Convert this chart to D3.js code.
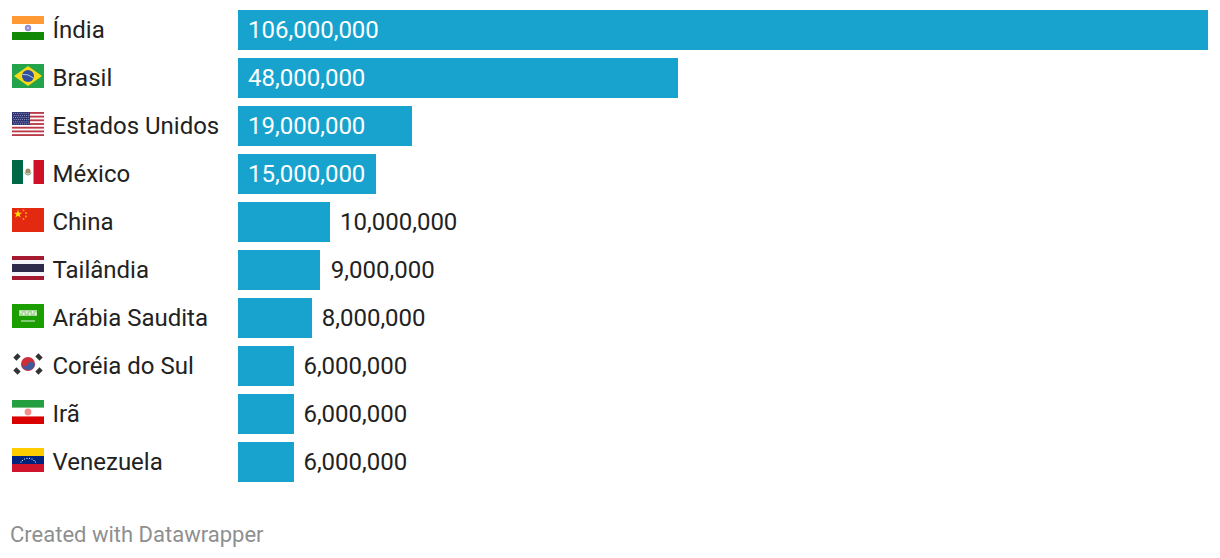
<!DOCTYPE html>
<html>
<head>
<meta charset="utf-8">
<script src="https://cdn.jsdelivr.net/npm/d3@7"></script>
<style>
	html, body { margin: 0 ; padding: 0 ; background: #fff ; overflow: hidden ; }
	text { font-family: Roboto, sans-serif ; }
</style>
</head>
<body>
<svg id="chart" width="1220" height="558"></svg>
<script>
const countries = [ "Índia", "Brasil", "Estados Unidos", "México", "China", "Tailândia", "Arábia Saudita", "Coréia do Sul", "Irã", "Venezuela" ] ;
const values = [ 106000000, 48000000, 19000000, 15000000, 10000000, 9000000, 8000000, 6000000, 6000000, 6000000 ] ;
const flagCodes = [ "in", "br", "us", "mx", "cn", "th", "sa", "kr", "ir", "ve" ] ;
const footer = "Created with Datawrapper" ;

const svg = d3.select( "#chart" ) ;

const x = d3.scaleLinear().domain( [0, 106000000] ).range( [238, 1208] ) ;
const y = d3.scaleBand().domain( countries ).range( [10, 482] ).paddingInner( 1/6 ) ;
const fmt = d3.format( "," ) ;

// the original snaps bar widths to whole css pixels of a 2x page
function barWidth( v ) {
	return Math.round( (x(v) - x(0))/2 + 0.3 ) * 2 ;
}

const rows = svg.selectAll( "g.row" )
	.data( countries )
	.enter().append( "g" )
		.attr( "class", "row" )
	;

rows.append( "rect" )
	.attr( "x", x(0) )
	.attr( "y", d => y(d) )
	.attr( "width", (d,i) => barWidth( values[i] ) )
	.attr( "height", y.bandwidth() )
	.attr( "fill", "#18a3cf" )
	;

rows.append( "text" )
	.attr( "x", 52.5 )
	.attr( "y", d => y(d) + y.bandwidth()/2 + 8 )
	.attr( "font-size", 24 )
	.attr( "fill", "#222" )
	.text( d => d )
	;

// big bars keep the label inside in white, small ones get it outside
rows.append( "text" )
	.attr( "x", (d,i) => values[i] > 10000000 ? x(0) + 10 : x(values[i]) + 10.5 )
	.attr( "y", d => y(d) + y.bandwidth()/2 + 8 )
	.attr( "font-size", 24 )
	.attr( "fill", (d,i) => values[i] > 10000000 ? "#fff" : "#222" )
	.text( (d,i) => fmt(values[i]) )
	;

svg.append( "text" )
	.attr( "x", 10 )
	.attr( "y", 542 )
	.attr( "font-size", 22 )
	.attr( "fill", "#8f8f8f" )
	.text( footer )
	;

/*
	flags - each one is drawn in its own 32x24 box
*/
function band( g, yy, h, c ) {
	g.append( "rect" ).attr( "x", 0 ).attr( "y", yy ).attr( "width", 32 ).attr( "height", h ).attr( "fill", c ) ;
}
function box( g, xx, yy, w, h, c ) {
	g.append( "rect" ).attr( "x", xx ).attr( "y", yy ).attr( "width", w ).attr( "height", h ).attr( "fill", c ) ;
}
function dot( g, cx, cy, r, c ) {
	g.append( "circle" ).attr( "cx", cx ).attr( "cy", cy ).attr( "r", r ).attr( "fill", c ) ;
}

const flagDraw = {
	in( g ) {
		band( g, 0, 8, "#ff9933" ) ;
		band( g, 8, 8, "#ffffff" ) ;
		band( g, 16, 8, "#128807" ) ;
		dot( g, 16, 12, 3.2, "#8f8fd0" ) ;
		dot( g, 16, 12, 1, "#dcdcf4" ) ;
	},
	br( g ) {
		band( g, 0, 24, "#24a44a" ) ;
		g.append( "path" ).attr( "d", "M16 2L30 12L16 22L2 12Z" ).attr( "fill", "#f7d917" ) ;
		dot( g, 16, 12, 6, "#2f4fa0" ) ;
		g.append( "path" ).attr( "d", "M10.5 10.5Q16 9.5 21.5 14" ).attr( "stroke", "#d8e4ea" ).attr( "stroke-width", 0.8 ).attr( "fill", "none" ) ;
	},
	us( g ) {
		band( g, 0, 24, "#ffffff" ) ;
		for( let i=0 ; i<7 ; i++ ) {
			band( g, i*24/6.5, 24/13, "#bb3a48" ) ;
		}
		box( g, 0, 0, 18, 13, "#2f3470" ) ;
		for( let r=0 ; r<6 ; r++ ) {
			for( let c=0 ; c<8 ; c++ ) {
				dot( g, 1.5 + c*2.1 + (r%2)*0.6, 1.3 + r*2.1, 0.5, "#aab0d4" ) ;
			}
		}
	},
	mx( g ) {
		box( g, 0, 0, 11, 24, "#006847" ) ;
		box( g, 11, 0, 10.5, 24, "#ffffff" ) ;
		box( g, 21.5, 0, 10.5, 24, "#ce1126" ) ;
		dot( g, 16, 11, 2.6, "#a88a68" ) ;
		g.append( "path" ).attr( "d", "M12.8 12.5Q16 17.5 19.2 12.5" ).attr( "stroke", "#7fa87a" ).attr( "stroke-width", 1.2 ).attr( "fill", "none" ) ;
	},
	cn( g ) {
		band( g, 0, 24, "#e32a10" ) ;
		g.append( "path" ).attr( "d", d3.symbol( d3.symbolStar, 22 )() ).attr( "transform", "translate(6,6)" ).attr( "fill", "#ffde00" ) ;
		[ [11.5,2.3], [14,5], [14,8.5], [11.5,11] ].forEach( p => dot( g, p[0], p[1], 0.9, "#ffb000" ) ) ;
	},
	th( g ) {
		band( g, 0, 4, "#a51931" ) ;
		band( g, 4, 4, "#f4f5f8" ) ;
		band( g, 8, 8, "#2d2a4a" ) ;
		band( g, 16, 4, "#f4f5f8" ) ;
		band( g, 20, 4, "#a51931" ) ;
	},
	sa( g ) {
		band( g, 0, 24, "#1b9f00" ) ;
		box( g, 7, 6, 18, 6, "#a6d698" ) ;
		for( let i=0 ; i<6 ; i++ ) {
			box( g, 8 + i*3, 7 + (i%2)*1.5, 1.5, 2.5, "#e6f4e0" ) ;
		}
		box( g, 9, 16.5, 14, 1, "#e2f2dc" ) ;
	},
	kr( g ) {
		band( g, 0, 24, "#ffffff" ) ;
		dot( g, 16, 12, 7, "#cd2e3a" ) ;
		g.append( "path" ).attr( "d", "M9.3 10.2A3.5 3.5 0 0 0 16 12A3.5 3.5 0 0 1 22.7 13.8A7 7 0 0 1 9.3 10.2Z" ).attr( "fill", "#3f5a9e" ) ;
		[ [5,5,-45], [27,5,45], [5,19,45], [27,19,-45] ].forEach( p => {
			g.append( "rect" ).attr( "x", -3 ).attr( "y", -2.2 ).attr( "width", 6 ).attr( "height", 4.4 )
				.attr( "transform", "translate(" + p[0] + "," + p[1] + ") rotate(" + p[2] + ")" )
				.attr( "fill", "#333" ) ;
		}) ;
	},
	ir( g ) {
		band( g, 0, 8, "#239f40" ) ;
		band( g, 8, 8, "#ffffff" ) ;
		band( g, 16, 8, "#da0000" ) ;
		dot( g, 16, 12, 3.4, "#f0908c" ) ;
		box( g, 0, 7.3, 32, 0.7, "#9fd3ac" ) ;
		box( g, 0, 16, 32, 0.7, "#f0a0a0" ) ;
	},
	ve( g ) {
		band( g, 0, 8, "#ffcc00" ) ;
		band( g, 8, 8, "#00247d" ) ;
		band( g, 16, 8, "#cf142b" ) ;
		[ [9,14], [10.5,12.5], [12.5,11], [15,10.3], [17.5,10.3], [20,11], [22,12.5], [23.5,14] ].forEach( p => dot( g, p[0], p[1], 0.6, "#fff" ) ) ;
	}
} ;

rows.append( "g" )
	.attr( "transform", d => "translate(12," + ( y(d) + y.bandwidth()/2 - 14 ) + ")" )
	.each( function(d,i) { flagDraw[ flagCodes[i] ]( d3.select( this ) ) ; } )
	;
</script>
</body>
</html>
